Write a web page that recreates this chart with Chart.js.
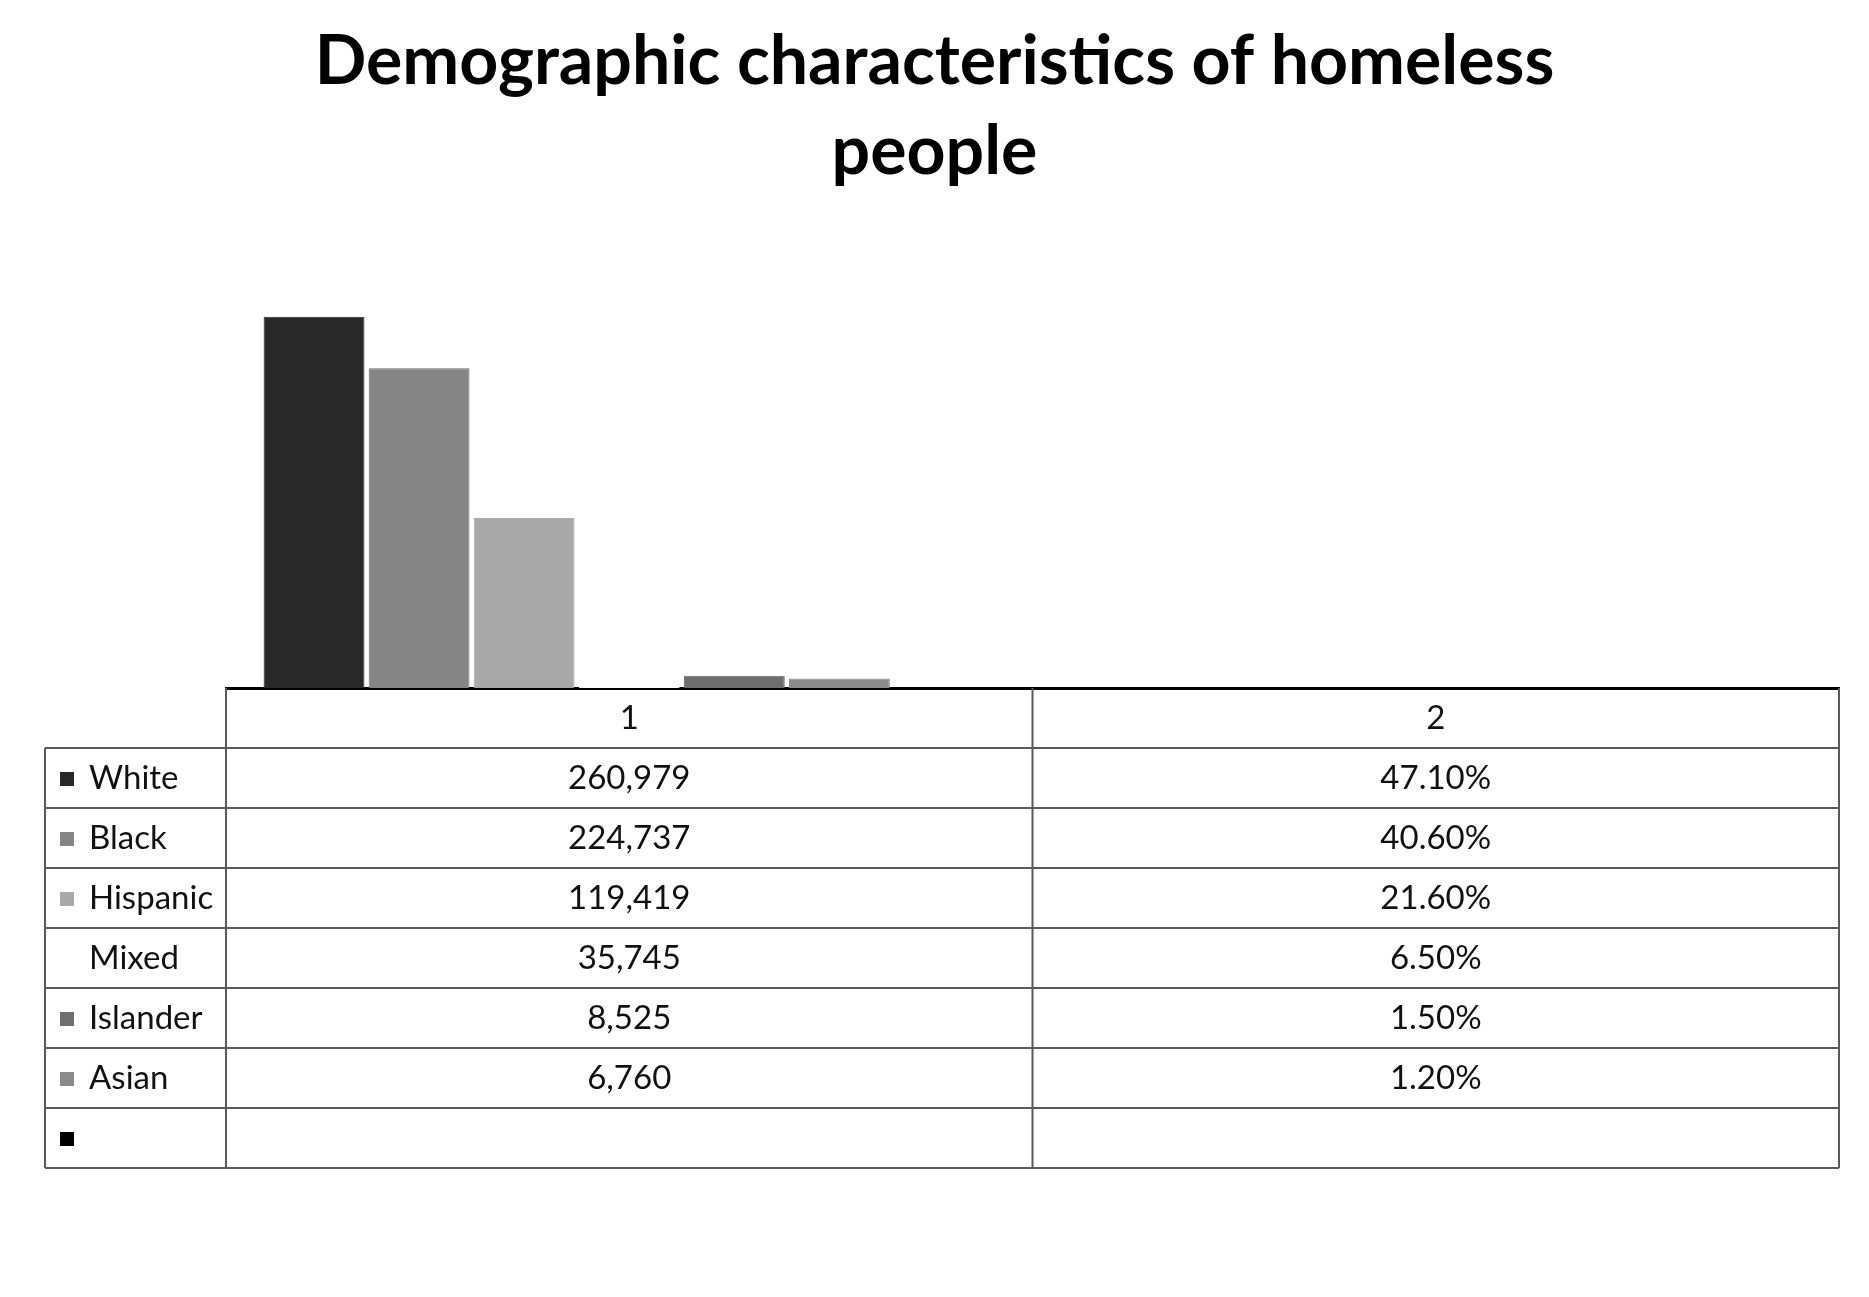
<!DOCTYPE html>
<html>
<head>
<meta charset="utf-8">
<script src="https://cdn.jsdelivr.net/npm/chart.js@4.4.1/dist/chart.umd.min.js"></script>
<style>
  html, body { margin: 0; padding: 0; background: #fff; }
  #wrap { width: 1869px; height: 1297px; }
</style>
</head>
<body>
<div id="wrap"><canvas id="chart"></canvas></div>
<script>
// data
var categories = ['1', '2'];
var seriesNames = ['White', 'Black', 'Hispanic', 'Mixed', 'Islander', 'Asian', ''];
var countValues = [260979, 224737, 119419, 35745, 8525, 6760, null];
var percentValues = [47.1, 40.6, 21.6, 6.5, 1.5, 1.2, null];
var countLabels = ['260,979', '224,737', '119,419', '35,745', '8,525', '6,760', ''];
var percentLabels = ['47.10%', '40.60%', '21.60%', '6.50%', '1.50%', '1.20%', ''];
var seriesColors = ['#282828', '#858585', '#a9a9a9', '#ffffff', '#6e6e6e', '#8a8a8a', '#000000'];

var FONT = 'Lato, "Open Sans", sans-serif';
var ROW_H = 60;

var datasets = [];
for (var i = 0; i < seriesNames.length; i++) {
  datasets.push({
    label: seriesNames[i],
    data: [countValues[i], percentValues[i]],
    backgroundColor: seriesColors[i],
    borderColor: i == 1 ? '#707070' : seriesColors[i],
    borderWidth: 1,
    barPercentage: 0.96,
    categoryPercentage: 0.912
  });
}

// data table under the plot, drawn from the same arrays
var dataTable = {
  id: 'dataTable',
  afterDraw: function(chart) {
    var ctx = chart.ctx;
    var area = chart.chartArea;
    var x = chart.scales.x;
    var left = 45;
    var colL = area.left;
    var colM = (x.getPixelForValue(0) + x.getPixelForValue(1)) / 2;
    var colR = area.right;
    var top = area.bottom;
    var rows = seriesNames.length;
    var bottom = top + ROW_H * (rows + 1);

    ctx.save();
    ctx.strokeStyle = '#5a5a5a';
    ctx.lineWidth = 2;
    ctx.beginPath();
    ctx.moveTo(colL, top); ctx.lineTo(colL, bottom);
    ctx.moveTo(colM, top); ctx.lineTo(colM, bottom);
    ctx.moveTo(colR, top); ctx.lineTo(colR, bottom);
    ctx.moveTo(left, top + ROW_H); ctx.lineTo(left, bottom);
    for (var r = 1; r <= rows + 1; r++) {
      ctx.moveTo(left, top + r * ROW_H);
      ctx.lineTo(colR, top + r * ROW_H);
    }
    ctx.stroke();

    ctx.fillStyle = '#111';
    ctx.font = '33px ' + FONT;
    ctx.textBaseline = 'middle';
    ctx.textAlign = 'center';
    ctx.fillText(categories[0], (colL + colM) / 2, top + ROW_H / 2);
    ctx.fillText(categories[1], (colM + colR) / 2, top + ROW_H / 2);

    for (var k = 0; k < rows; k++) {
      var cy = top + (k + 1) * ROW_H + ROW_H / 2;
      ctx.textAlign = 'center';
      ctx.fillStyle = '#111';
      ctx.fillText(countLabels[k], (colL + colM) / 2, cy);
      ctx.fillText(percentLabels[k], (colM + colR) / 2, cy);
      ctx.textAlign = 'left';
      ctx.fillText(seriesNames[k], 89, cy);
      ctx.fillStyle = seriesColors[k];
      ctx.fillRect(60, cy - 6, 14, 14);
    }
    ctx.restore();
  }
};

var ctx = document.getElementById('chart').getContext('2d');
var chart = new Chart(ctx, {
  type: 'bar',
  data: {
    labels: categories,
    datasets: datasets
  },
  plugins: [dataTable],
  options: {
    responsive: true,
    maintainAspectRatio: false,
    animation: false,
    layout: { padding: { left: 0, right: 0, top: 0, bottom: 609 } },
    plugins: {
      legend: { display: false },
      tooltip: { enabled: false },
      title: {
        display: true,
        text: ['Demographic characteristics of homeless', 'people'],
        color: '#000',
        font: { family: FONT, size: 68, weight: 'bold', lineHeight: 1.31 },
        padding: { top: 18, bottom: 65 }
      }
    },
    scales: {
      x: {
        grid: { display: false, drawTicks: false },
        border: { display: true, color: '#000', width: 3 },
        ticks: { display: false }
      },
      y: {
        position: 'left',
        min: 0,
        max: 300000,
        grid: { display: false, drawTicks: false },
        border: { display: false },
        ticks: { display: false },
        afterFit: function(scale) { scale.width = 226; }
      },
      y2: {
        position: 'right',
        min: 0,
        max: 300000,
        grid: { display: false, drawTicks: false },
        border: { display: false },
        ticks: { display: false },
        afterFit: function(scale) { scale.width = 30; }
      }
    }
  }
});
</script>
</body>
</html>
